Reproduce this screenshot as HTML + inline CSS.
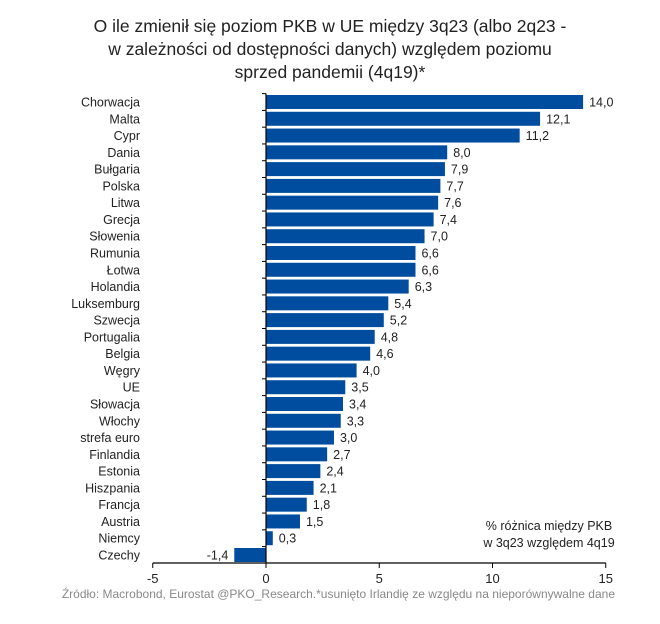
<!DOCTYPE html>
<html><head><meta charset="utf-8">
<style>
body{margin:0;background:#fff;}
svg{display:block;font-family:"Liberation Sans",sans-serif;}
</style></head>
<body>
<svg id="chart" width="660" height="624">
<text x="330" y="32" text-anchor="middle" font-size="17.5" fill="#222">O ile zmienił się poziom PKB w UE między 3q23 (albo 2q23 -</text>
<text x="330" y="55" text-anchor="middle" font-size="17.5" fill="#222">w zależności od dostępności danych) względem poziomu</text>
<text x="330" y="78" text-anchor="middle" font-size="17.5" fill="#222">sprzed pandemii (4q19)*</text>
<g id="bars"></g>
<text x="549" y="530" text-anchor="middle" font-size="12.5" fill="#222">% różnica między PKB</text>
<text x="549" y="547" text-anchor="middle" font-size="12.5" fill="#222">w 3q23 względem 4q19</text>
<text x="615" y="598" text-anchor="end" font-size="12" fill="#888">Źródło: Macrobond, Eurostat @PKO_Research.*usunięto Irlandię ze względu na nieporównywalne dane</text>
</svg>
<script>
const categories=["Chorwacja","Malta","Cypr","Dania","Bułgaria","Polska","Litwa","Grecja","Słowenia","Rumunia","Łotwa","Holandia","Luksemburg","Szwecja","Portugalia","Belgia","Węgry","UE","Słowacja","Włochy","strefa euro","Finlandia","Estonia","Hiszpania","Francja","Austria","Niemcy","Czechy"];
const values=[14.0,12.1,11.2,8.0,7.9,7.7,7.6,7.4,7.0,6.6,6.6,6.3,5.4,5.2,4.8,4.6,4.0,3.5,3.4,3.3,3.0,2.7,2.4,2.1,1.8,1.5,0.3,-1.4];
const ticks=[-5,0,5,10,15];
const NS="http://www.w3.org/2000/svg";
const svg=document.getElementById('chart');
const g=document.getElementById('bars');
const x=v=>266+v*22.65;
const y0=102, step=(555-102)/27, bh=14, axisY=563;
const y=i=>y0+i*step;
function mk(t,a){const e=document.createElementNS(NS,t);for(const k in a)e.setAttribute(k,a[k]);return e;}
categories.forEach((c,i)=>{
  const v=values[i];
  const r=mk('rect',{x:Math.min(x(0),x(v)),y:y(i)-bh/2,width:Math.abs(x(v)-x(0)),height:bh,fill:'#004c9e'});
  
  
  g.appendChild(r);
  const l=mk('text',{x:140,y:y(i)+4.5,'text-anchor':'end','font-size':12.5,fill:'#222'});
  l.textContent=c;
  
  
  g.appendChild(l);
  const lbl=v.toFixed(1).replace('.',',');
  const vt=mk('text',{x:v>=0?x(v)+6:x(v)-6,y:y(i)+4.5,'text-anchor':v>=0?'start':'end','font-size':12.5,fill:'#222'});
  vt.textContent=lbl;
  
  
  g.appendChild(vt);
  const tk=mk('line',{x1:x(0)-4,x2:x(0),y1:y(i)-step/2,y2:y(i)-step/2,stroke:'#000'});
  
  
  g.appendChild(tk);
});
const ya=mk('line',{x1:x(0),x2:x(0),y1:y(0)-step/2,y2:axisY,stroke:'#000','stroke-width':1.2});


g.appendChild(ya);
const xa=mk('line',{x1:x(-5),x2:x(15),y1:axisY,y2:axisY,stroke:'#000','stroke-width':1.2});


g.appendChild(xa);
ticks.forEach(t=>{
  const tl=mk('line',{x1:x(t),x2:x(t),y1:axisY,y2:axisY+5,stroke:'#000'});
  
  
  g.appendChild(tl);
  const tt=mk('text',{x:x(t),y:axisY+20,'text-anchor':'middle','font-size':13,fill:'#222'});
  tt.textContent=String(t);
  
  
  g.appendChild(tt);
});
</script>
</body></html>
